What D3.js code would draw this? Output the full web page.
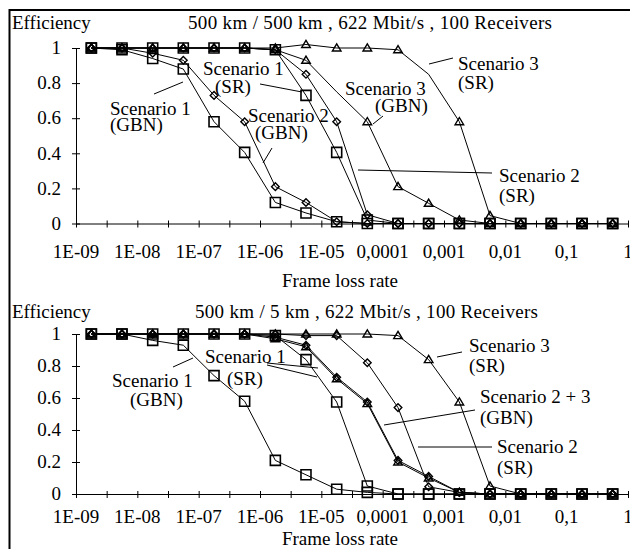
<!DOCTYPE html>
<html><head><meta charset="utf-8">
<script src="https://cdn.jsdelivr.net/npm/d3@7"></script>
<style>
body{margin:0;background:#fff}
svg text{font-family:"Liberation Serif","Times New Roman",serif;fill:#000;font-size:19px}
</style>
</head><body>
<svg id="chart" width="630" height="549"></svg>
<script>
// ---------- DATA ----------
const frameLossRates = [1.78e-9,5.62e-9,1.78e-8,5.62e-8,1.78e-7,5.62e-7,1.78e-6,5.62e-6,1.78e-5,5.62e-5,1.78e-4,5.62e-4,1.78e-3,5.62e-3,1.78e-2,5.62e-2,0.178,0.562];
const decadeTicks = [1e-9,1e-8,1e-7,1e-6,1e-5,1e-4,1e-3,1e-2,1e-1,1];
const decadeLabels = ["1E-09","1E-08","1E-07","1E-06","1E-05","0,0001","0,001","0,01","0,1","1"];
const yTicks = [0,0.2,0.4,0.6,0.8,1];
const yTickLabels = ["0","0.2","0.4","0.6","0.8","1"];

const topTitle = "500 km / 500 km , 622 Mbit/s , 100 Receivers";
const botTitle = "500 km / 5 km , 622 Mbit/s , 100 Receivers";
const yTitle = "Efficiency";
const xTitle = "Frame loss rate";

// top panel (500 km / 500 km)
const topS1GBN = [1,0.99,0.94,0.88,0.58,0.405,0.12,0.06,0.01,0,0,0,0,0,0,0,0,0];
const topS1SR  = [1,1,1,1,1,1,0.99,0.73,0.405,0.02,0,0,0,0,0,0,0,0];
const topS2GBN = [1,1,0.97,0.93,0.73,0.58,0.21,0.12,0.01,0,0,0,0,0,0,0,0,0];
const topS2SR  = [1,1,1,1,1,1,0.99,0.85,0.58,0.05,0,0,0,0,0,0,0,0];
const topS3GBN = [1,1,1,1,1,1,0.99,0.93,0.75,0.58,0.21,0.115,0.02,0,0,0,0,0];
const topS3SR  = [1,1,1,1,1,1,1,1.02,1,1,0.99,0.85,0.58,0.045,0,0,0,0];

// bottom panel (500 km / 5 km)
const botS1GBN = [1,1,0.96,0.93,0.74,0.58,0.21,0.12,0.03,0.01,0,0,0,0,0,0,0,0];
const botS1SR  = [1,1,1,1,1,1,0.99,0.84,0.575,0.05,0,0,0,0,0,0,0,0];
const botS2GBN = [1,1,1,1,1,1,0.98,0.93,0.73,0.575,0.21,0.11,0.01,0,0,0,0,0];
const botS3GBN = [1,1,1,1,1,1,0.97,0.92,0.72,0.565,0.2,0.1,0.01,0,0,0,0,0];
const botS2SR  = [1,1,1,1,1,1,1,0.99,0.99,0.82,0.54,0.045,0.01,0,0,0,0,0];
const botS3SR  = [1,1,1,1,1,1,1,1,1,1,0.99,0.84,0.575,0.05,0,0,0,0];

// points whose marker is not shown in the original
const topS3GBNNoMarker = [8];
const topS3SRNoMarker = [11];

// ---------- LAYOUT ----------
const svg = d3.select("#chart");
svg.append("rect").attr("width",630).attr("height",549).attr("fill","#fff");
svg.append("line").attr("x1",9).attr("x2",630).attr("y1",10).attr("y2",10).attr("stroke","#000").attr("stroke-width",2);
svg.append("line").attr("x1",9.5).attr("x2",9.5).attr("y1",9).attr("y2",549).attr("stroke","#000").attr("stroke-width",2);

const x = d3.scaleLog().domain([1e-9,1]).range([76,628]);
const boundaries = [];
decadeTicks.forEach((d,i)=>{ boundaries.push(d); if(i<decadeTicks.length-1) boundaries.push(d*Math.sqrt(10)); });

const markerPath = {
  square: () => `M-5,-5h10v10h-10Z`,
  diamond: () => `M0,-3.8L3.8,0L0,3.8L-3.8,0Z`,
  triangle: () => `M0,-4.2L4.3,3L-4.3,3Z`
};

const panels = [
  { title: topTitle, titleX: 188, titleW: 364, titleY: 29, yTitleY: 29, y0: 223.5, y1: 48, labelDy: 34, xTitleY: 287,
    series: [
      {v: topS1GBN, m:"square"}, {v: topS1SR, m:"square"},
      {v: topS2GBN, m:"diamond"}, {v: topS2SR, m:"diamond"},
      {v: topS3GBN, m:"triangle", hide: topS3GBNNoMarker}, {v: topS3SR, m:"triangle", hide: topS3SRNoMarker}],
    notes: [
      {lines:[["Scenario 1",110,115],["(GBN)",110,131]], leader:[[154,94],[183,82]]},
      {lines:[["Scenario 1",203,75],["(SR)",215,93]], leader:[[260,84],[302,92]]},
      {lines:[["Scenario 2",248,122],["(GBN)",255,139]], leader:[[272,148],[263,163]]},
      {lines:[["Scenario 3",345,95],["(GBN)",375,112]], leader:[[383,116],[373,124]]},
      {lines:[["Scenario 3",458,70],["(SR)",458,89]], leader:[[429,64],[453,58]]},
      {lines:[["Scenario 2",499,182],["(SR)",499,202]], leader:[[358,170],[492,173]]}
    ]},
  { title: botTitle, titleX: 195, titleW: 343, titleY: 318, yTitleY: 318, y0: 494, y1: 334, labelDy: 29, xTitleY: 545,
    series: [
      {v: botS1GBN, m:"square"}, {v: botS1SR, m:"square"},
      {v: botS2GBN, m:"diamond"}, {v: botS3GBN, m:"triangle"},
      {v: botS2SR, m:"diamond"}, {v: botS3SR, m:"triangle"}],
    notes: [
      {lines:[["Scenario 1",112,387],["(GBN)",130,406]], leader:[[173,367],[193,358]]},
      {lines:[["Scenario 1",205,363],["(SR)",227,385]], leader:[[267,365],[317,377]], leader2:[[267,363],[318,368]]},
      {lines:[["Scenario 3",469,352],["(SR)",469,372]], leader:[[437,357],[462,352]]},
      {lines:[["Scenario 2 + 3",480,403],["(GBN)",480,424]], leader:[[384,425],[475,410]]},
      {lines:[["Scenario 2",497,453],["(SR)",497,474]], leader:[[418,447],[492,447]]}
    ]}
];

panels.forEach(p=>{
  const y = d3.scaleLinear().domain([0,1]).range([p.y0,p.y1]);
  const g = svg.append("g");
  const ya = g.append("g").attr("transform",`translate(${x.range()[0]},0)`)
    .call(d3.axisLeft(y).tickValues(yTicks).tickSize(4).tickSizeOuter(0).tickFormat(""));
  ya.selectAll(".tick line").attr("x1",4).attr("stroke","#000");
  ya.select(".domain").attr("stroke","#000");
  yTicks.forEach((t,i)=>{
    g.append("text").attr("x",61).attr("y",y(t)).attr("dy","0.33em").attr("text-anchor","end").text(yTickLabels[i]);
  });
  const xa = g.append("g").attr("transform",`translate(0,${p.y0})`)
    .call(d3.axisBottom(x).tickValues(boundaries).tickSize(4).tickSizeOuter(0).tickFormat(""));
  xa.selectAll(".tick line").attr("y1",-3).attr("stroke","#000");
  xa.select(".domain").attr("stroke","#000");
  decadeTicks.forEach((t,i)=>{
    g.append("text").attr("x",x(t)).attr("y",p.y0+p.labelDy).attr("text-anchor","middle").text(decadeLabels[i]);
  });
  g.append("text").attr("x",340).attr("y",p.xTitleY).attr("text-anchor","middle").text(xTitle);
  g.append("text").attr("x",12).attr("y",p.yTitleY).text(yTitle);
  g.append("text").attr("x",p.titleX).attr("y",p.titleY)
    .attr("textLength",p.titleW).attr("lengthAdjust","spacing").text(p.title);

  const line = d3.line().x((d,i)=>x(frameLossRates[i])).y(d=>y(d));
  p.series.forEach(s=>{
    g.append("path").datum(s.v).attr("d",line).attr("fill","none").attr("stroke","#000").attr("stroke-width",1);
  });
  p.series.forEach(s=>{
    const pts = s.v.map((d,i)=>({d,i})).filter(o=>!(s.hide||[]).includes(o.i));
    g.append("g").selectAll("path").data(pts).join("path")
      .attr("transform",o=>`translate(${x(frameLossRates[o.i])},${y(o.d)})`)
      .attr("d",markerPath[s.m]()).attr("fill","none").attr("stroke","#000")
      .attr("stroke-width", s.m==="square"?1.6:1.4);
  });
  p.notes.forEach(n=>{
    n.lines.forEach(l=>g.append("text").attr("x",l[1]).attr("y",l[2]).text(l[0]));
    [n.leader,n.leader2].filter(Boolean).forEach(ld=>{
      g.append("line").attr("x1",ld[0][0]).attr("y1",ld[0][1]).attr("x2",ld[1][0]).attr("y2",ld[1][1])
        .attr("stroke","#000").attr("stroke-width",1);
    });
  });
});
</script>
</body></html>
